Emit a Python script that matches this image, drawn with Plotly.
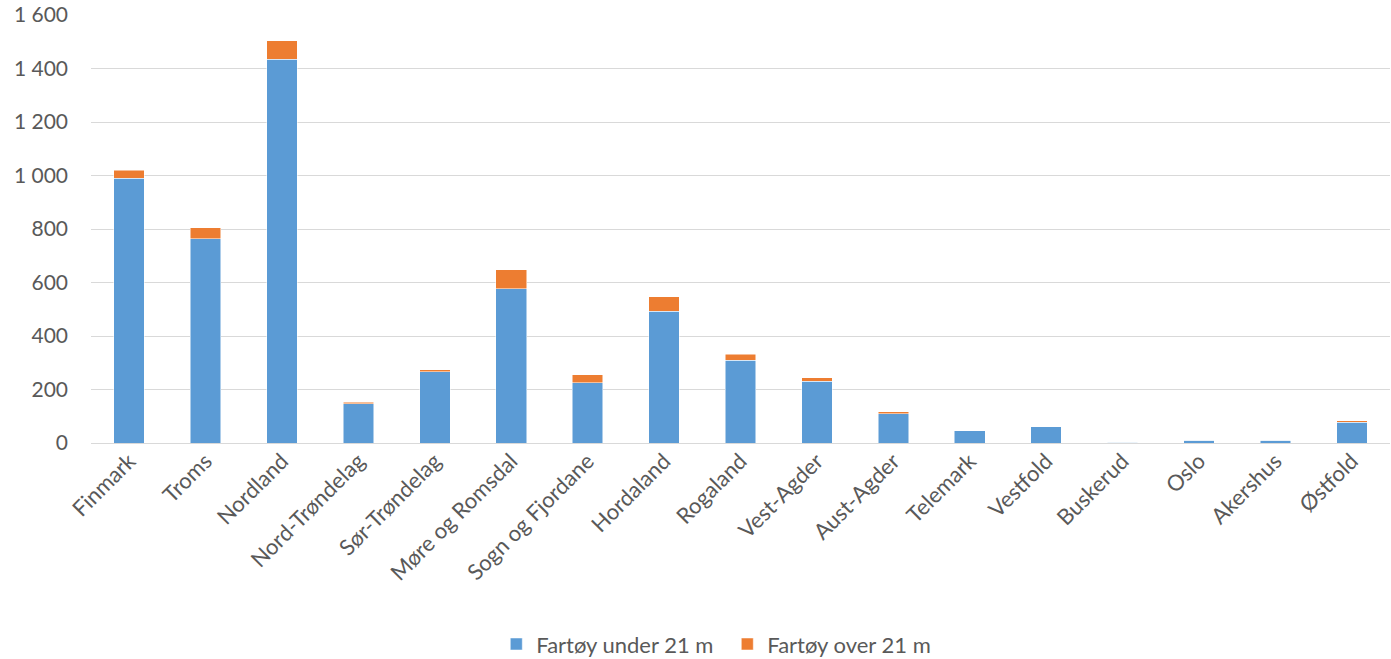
import plotly.graph_objects as go

categories = ["Finmark", "Troms", "Nordland", "Nord-Trøndelag", "Sør-Trøndelag",
              "Møre og Romsdal", "Sogn og Fjordane", "Hordaland", "Rogaland",
              "Vest-Agder", "Aust-Agder", "Telemark", "Vestfold", "Buskerud",
              "Oslo", "Akershus", "Østfold"]
under_21 = [990, 763, 1435, 147, 266, 576, 226, 493, 310, 230, 110, 46, 60, 2, 10, 10, 77]
over_21 = [30, 41, 69, 5, 8, 72, 30, 54, 21, 14, 7, 0, 0, 0, 0, 0, 6]
y_ticks = [0, 200, 400, 600, 800, 1000, 1200, 1400, 1600]

font_family = "Lato, Open Sans, sans-serif"
grey = "#595959"

fig = go.Figure()
fig.add_trace(go.Bar(x=categories, y=under_21, name="Fartøy under 21 m",
                     marker=dict(color="#5b9bd5", line=dict(color="#ffffff", width=0.5))))
fig.add_trace(go.Bar(x=categories, y=over_21, name="Fartøy over 21 m",
                     marker=dict(color="#ed7d31", line=dict(color="#ffffff", width=0.5))))

fig.update_layout(
    barmode="stack",
    bargap=0.6,
    width=1391, height=659,
    margin=dict(l=91, r=1, t=15, b=215.5, autoexpand=False),
    plot_bgcolor="white", paper_bgcolor="white",
    separators=", ",
    font=dict(family=font_family, size=20, color=grey),
    legend=dict(orientation="h", x=0.312, xanchor="left", y=-0.421, yanchor="top",
                font=dict(size=22, color=grey), traceorder="normal",
                itemwidth=30, entrywidth=186, entrywidthmode="pixels"),
    xaxis=dict(tickangle=-45, showgrid=False, showline=False, ticks="",
               automargin=False,
               tickfont=dict(size=22, color=grey)),
    yaxis=dict(range=[0, 1600], tickvals=y_ticks, tickformat=",d",
               showgrid=True, gridcolor="#d9d9d9", gridwidth=1.3,
               zeroline=True, zerolinecolor="#d9d9d9", zerolinewidth=1.3,
               ticks="", ticklabelstandoff=22, automargin=False,
               ticklabeloverflow="allow",
               tickfont=dict(size=21, color=grey)),
)

fig.write_html("out.html", config={"displayModeBar": False},
               post_script="document.body.style.margin='0';")
